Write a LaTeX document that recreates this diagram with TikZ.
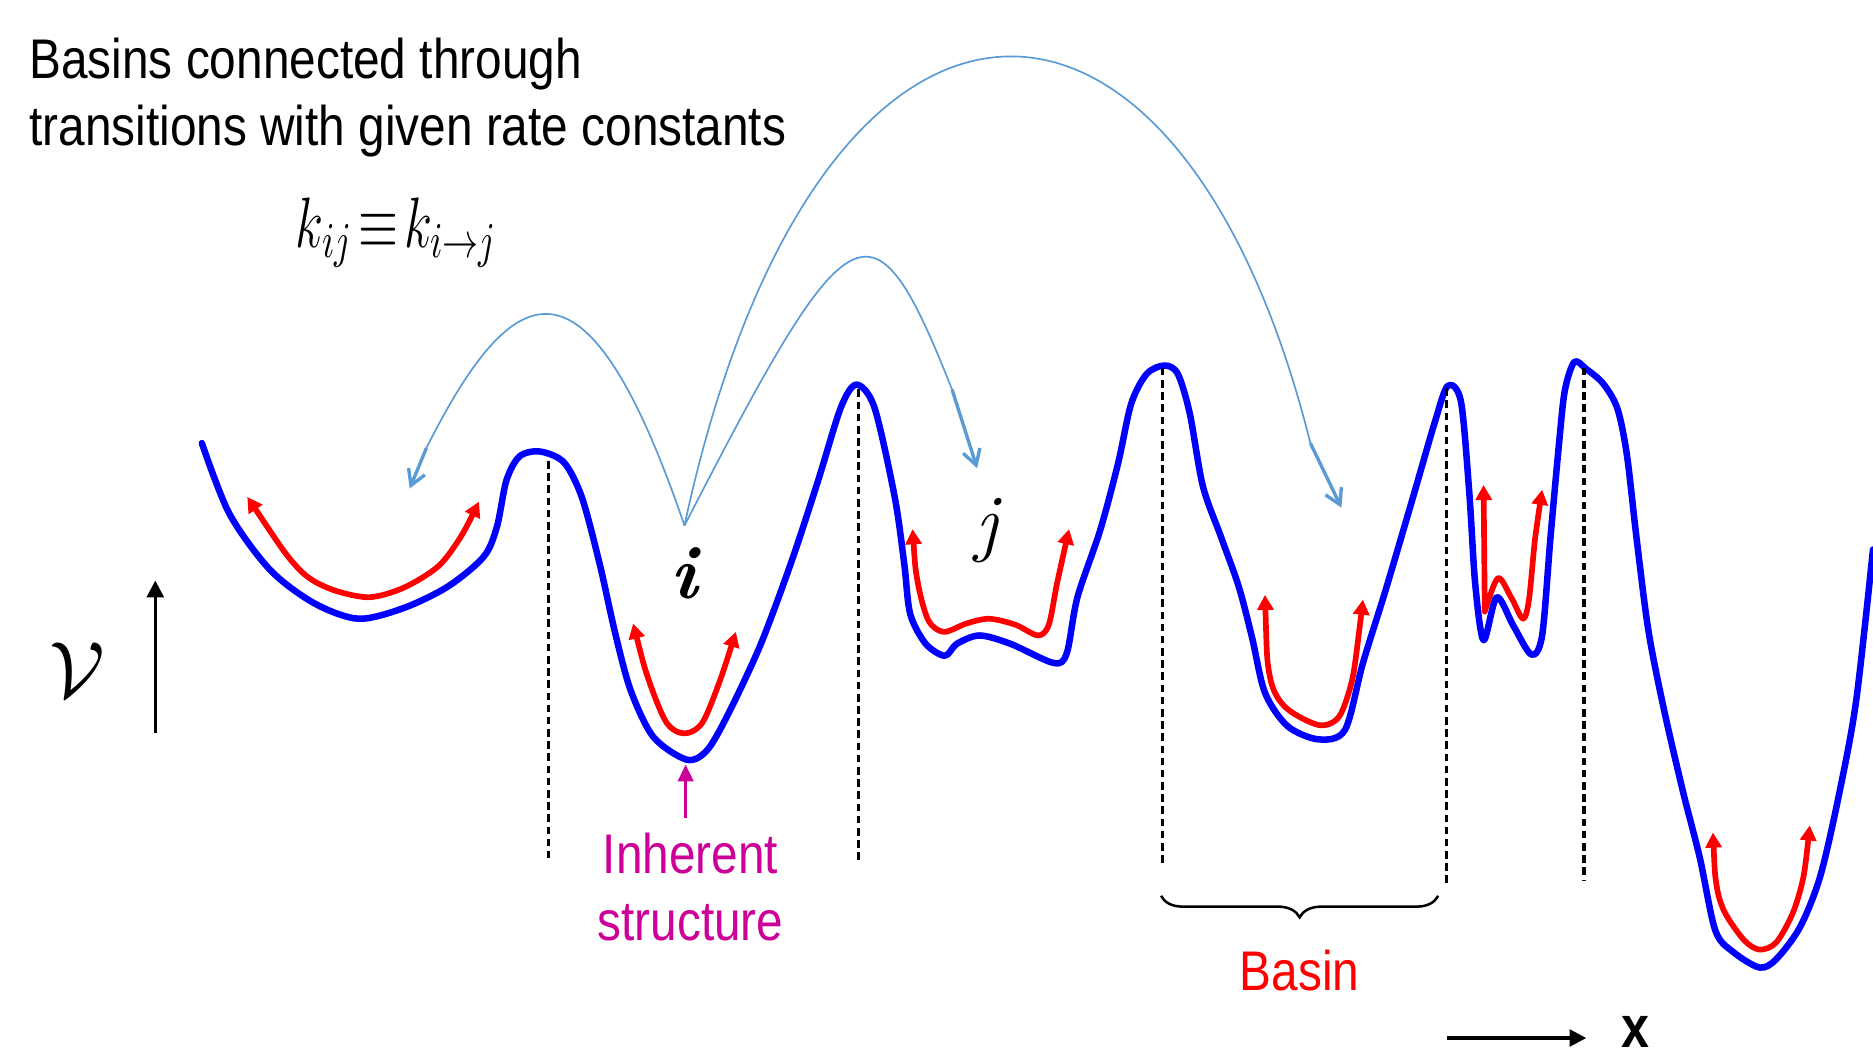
\documentclass[tikz,border=0pt]{standalone}
\usepackage{fix-cm}
\usepackage{fontspec}
\usetikzlibrary{arrows.meta,decorations.pathreplacing}
\newfontfamily\slidefont[FakeStretch=0.855]{Liberation Sans}
\definecolor{hopblue}{RGB}{91,155,213}
\definecolor{ismagenta}{RGB}{204,0,153}
\tikzset{
  pes/.style={blue, line width=1.55pt, line join=round, line cap=round},
  basinarrow/.style={red, line width=1.35pt, line join=round,
    {Triangle[length=3.6pt,width=3.8pt]}-{Triangle[length=3.6pt,width=3.8pt]}},
  hop/.style={hopblue, line width=0.4pt},
  hoptip/.style={hopblue, line width=0.8pt, -{Straight Barb[length=3.6pt,width=4.2pt]}},
  ridge/.style={black, line width=0.75pt, dash pattern=on 1.8pt off 1.1pt},
  isarrow/.style={ismagenta, line width=0.8pt, -{Triangle[length=4pt,width=3.6pt]}},
  axisarrow/.style={black, line width=0.8pt, -{Triangle[length=4pt,width=4pt]}},
  slidetext/.style={inner sep=0pt, font=\slidefont\fontsize{13.3}{16}\selectfont}
}
\begin{document}
\begin{tikzpicture}[x=0.01cm, y=-0.01cm]
  \useasboundingbox (0,0) rectangle (1568,883);
  % heading and rate constant
  \node[slidetext, anchor=north west, align=left] (head) at (24,31)
    {Basins connected through\\transitions with given rate constants};
  \node[anchor=base west, inner sep=0pt, font=\fontsize{17}{17}\selectfont] (rate) at (247,207)
    {\scalebox{0.72}[1]{$k_{ij}\!\equiv\!k_{i\to j}$}};
  % energy landscape
  \draw[pes] plot[smooth] coordinates {(169,371) (192,430) (226,477) (263,505) (300,518)
    (338,509) (375,491) (405,466) (416,441) (424,402) (435,382) (452,378) (472,387)
    (487,416) (502,472) (515,530) (528,578) (547,617) (575,636) (592,628) (610,597)
    (637,539) (663,469) (685,402) (704,341) (717,322) (732,341) (749,416) (757,472)
    (762,514) (775,539) (791,549) (801,539) (820,532) (846,539) (882,555) (893,547)
    (902,500) (921,444) (936,388) (947,338) (960,313) (975,306) (986,313) (996,346)
    (1007,407) (1022,449) (1037,491) (1048,533) (1059,580) (1078,608) (1104,619)
    (1126,611) (1141,555) (1160,494) (1183,416) (1201,354) (1212,323) (1223,336)
    (1230,412) (1235,489) (1242,536) (1253,500) (1267,524) (1282,548) (1291,532)
    (1298,450) (1305,373) (1310,327) (1318,303) (1328,309) (1342,321) (1354,342)
    (1362,381) (1370,450) (1380,528) (1393,594) (1409,663) (1423,718) (1436,779)
    (1451,797) (1473,810) (1487,803) (1507,776) (1524,733) (1540,663) (1554,586)
    (1568,460)};
  % motion inside the basins
  \draw[basinarrow] plot[smooth] coordinates {(207,416) (248,474) (274,492) (308,500)
    (338,492) (367,474) (386,449) (401,420)};
  \draw[basinarrow] plot[smooth] coordinates {(530,522) (543,569) (558,605) (573,614)
    (588,605) (603,569) (616,529)};
  \draw[basinarrow] plot[smooth] coordinates {(764,443) (768,486) (777,519) (790,529)
    (809,522) (828,518) (850,523) (869,532) (878,523) (885,488) (895,443)};
  \draw[basinarrow] plot[smooth] coordinates {(1059,498) (1063,566) (1076,592) (1104,607)
    (1121,600) (1132,569) (1138,527) (1141,502)};
  \draw[basinarrow] (1242,406) -- plot[smooth] coordinates {(1243,512) (1254,484)
    (1265,500) (1275,518) (1280,502) (1285,452) (1291,410)};
  \draw[basinarrow] plot[smooth] coordinates {(1434,697) (1437,741) (1444,764) (1460,787)
    (1473,795) (1487,789) (1501,764) (1510,733) (1515,691)};
  % saddle points
  \foreach \xs/\ya/\yb in {459/386/720, 719/326/722, 973/308/725, 1211/325/740, 1326/308/737}
    \draw[ridge] (\xs,\ya) -- (\xs,\yb);
  % basin labels
  \node[anchor=base, inner sep=0pt, font=\fontsize{18}{18}\selectfont\bfseries\itshape] (ilab) at (573,501) {i};
  \node[anchor=base, inner sep=0pt, font=\fontsize{18}{18}\selectfont\itshape] (jlab) at (826,458) {j};
  % transitions out of basin i
  \coordinate (src) at (573,440);
  \coordinate (b1) at (357,375);
  \coordinate (t1) at (343,409);
  \coordinate (b2) at (797,326);
  \coordinate (t2) at (818,392);
  \coordinate (b3) at (1097,371);
  \coordinate (t3) at (1123,425);
  \draw[hop] (src) .. controls (491,200) and (430,230) .. (b1);
  \draw[hoptip] (b1) -- (t1);
  \draw[hop] (src) .. controls (712,170) and (730,157) .. (b2);
  \draw[hoptip] (b2) -- (t2);
  \draw[hop] (src) .. controls (683,-70) and (986,-73) .. (b3);
  \draw[hoptip] (b3) -- (t3);
  % inherent structure
  \coordinate (imin) at (574,640);
  \node[slidetext, anchor=north, align=center, outer sep=0.12cm, text=ismagenta] (inh) at (578,685)
    {Inherent\\structure};
  \draw[isarrow] (inh.north -| imin) -- (imin);
  % basin
  \draw[decorate, decoration={brace, mirror, amplitude=0.18cm}, line width=0.6pt] (972,750) -- (1204,750);
  \node[slidetext, anchor=base, text=red] (basin) at (1088,829) {Basin};
  % axes
  \coordinate (va) at (130,614);
  \coordinate (vb) at (130,486);
  \draw[axisarrow] (va) -- (vb);
  \node[inner sep=0pt, font=\fontsize{19}{19}\selectfont] (vlab) at (65,561) {$\mathcal{V}$};
  \coordinate (xa) at (1211,869);
  \coordinate (xb) at (1328,869);
  \draw[axisarrow] (xa) -- (xb);
  \node[anchor=base, inner sep=0pt, font=\slidefont\bfseries\fontsize{14}{14}\selectfont] (xlab) at (1369,877) {x};
\end{tikzpicture}
\end{document}
